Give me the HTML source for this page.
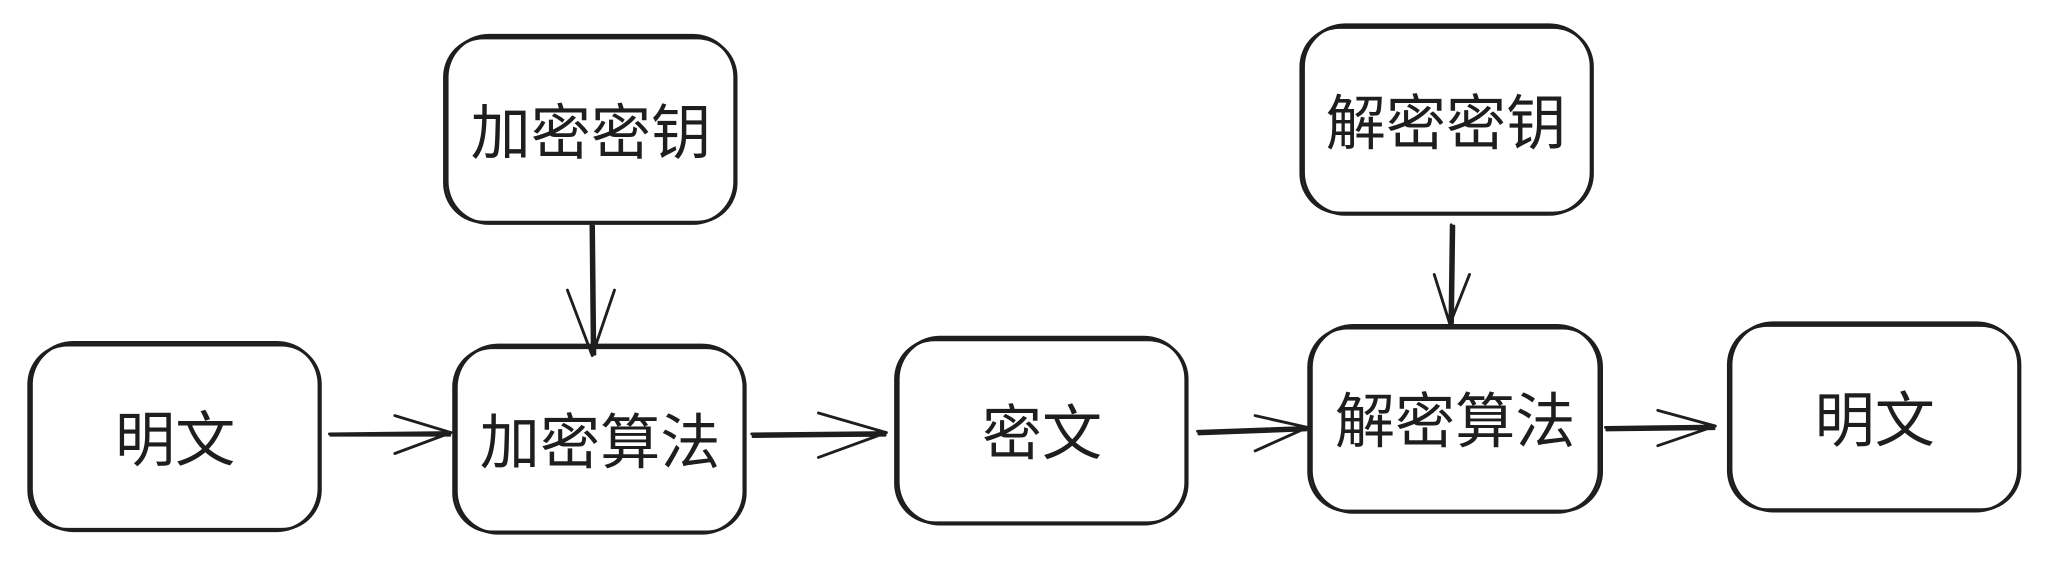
<!DOCTYPE html>
<html><head><meta charset="utf-8"><style>
html,body{margin:0;padding:0;background:#fff;}
svg{display:block}
text{font-family:"Liberation Sans","Noto Sans CJK SC",sans-serif;font-size:46px;fill:#1e1e1e;text-anchor:middle;dominant-baseline:central}
.b{fill:none;stroke:#1e1e1e;stroke-width:2.2;stroke-linecap:round;stroke-linejoin:round}
</style></head><body>
<svg width="2050" height="562" viewBox="0 0 1568 430" preserveAspectRatio="none">
<g class="b">
<rect x="22" y="264" width="223" height="141" rx="30"/>
<rect x="24" y="262" width="220" height="144" rx="32"/>
<rect x="347" y="266" width="223" height="141" rx="30"/>
<rect x="349" y="264" width="220" height="144" rx="32"/>
<rect x="685" y="260" width="223" height="140" rx="30"/>
<rect x="687" y="258" width="220" height="143" rx="32"/>
<rect x="1001" y="251" width="224" height="140" rx="30"/>
<rect x="1003" y="249" width="220" height="143" rx="32"/>
<rect x="1322" y="249" width="223" height="141" rx="30"/>
<rect x="1324" y="247" width="220" height="144" rx="32"/>
<rect x="340" y="29" width="223" height="141" rx="30"/>
<rect x="342" y="27" width="220" height="144" rx="32"/>
<rect x="995" y="21" width="223" height="142" rx="30"/>
<rect x="997" y="19" width="220" height="145" rx="32"/>
<path d="M252 332 L345 331 M253 333 L344 333 M302 318 L345 331 L302 347"/>
<path d="M575 332 L678 331 M576 334 L677 333 M626 316 L678 331 L626 350"/>
<path d="M916 330 L1000 327 M917 332 L999 329 M960 318 L1000 327 L960 345"/>
<path d="M1228 327 L1312 326 M1229 329 L1311 328 M1268 314 L1312 326 L1268 341"/>
<path d="M452 172 L453 272 M454 173 L455 271 M434 222 L453 272 L470 222"/>
<path d="M1110 172 L1109 248 M1112 173 L1111 247 M1097 210 L1109 248 L1124 210"/>
</g>
<text x="134" y="337">明文</text>
<text x="459" y="339">加密算法</text>
<text x="797" y="332">密文</text>
<text x="1113" y="323">解密算法</text>
<text x="1434" y="322">明文</text>
<text x="452" y="102">加密密钥</text>
<text x="1106" y="95">解密密钥</text>
</svg>
</body></html>
